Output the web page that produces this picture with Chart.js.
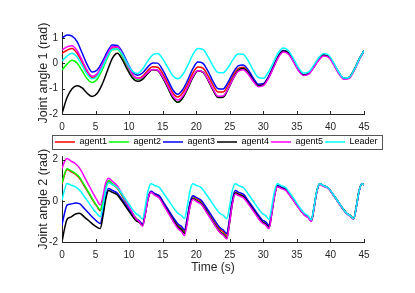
<!DOCTYPE html>
<html><head><meta charset="utf-8">
<script src="https://cdn.jsdelivr.net/npm/chart.js@4.4.1/dist/chart.umd.min.js"></script>
<style>
html,body{margin:0;padding:0;background:#fff;}
#wrap{position:relative;width:415px;height:293px;overflow:hidden;background:#fff;}
canvas{position:absolute;left:0;}
</style></head><body>
<div id="wrap">
<canvas id="c2" width="415" height="163" style="top:130px"></canvas>
<canvas id="c1" width="415" height="140" style="top:0px"></canvas>
</div>
<script>
const legendNames = ['agent1','agent2','agent3','agent4','agent5','Leader'];
const seriesColors = ['#ff0000','#00ff00','#0000ff','#000000','#ff00ff','#00ffff'];
const xTickValues = [0,5,10,15,20,25,30,35,40,45];
const yTicksTop = [-2,-1,0,1];
const yTicksBottom = [-2,0,2];

// time samples (s)
const t1 = [0,0.75,1.5,2.25,3,3.75,4.5,5.25,6,6.75,7.5,8.25,9,9.75,10.5,11.25,12,12.75,13.5,14.25,15,15.75,16.5,17.25,18,18.75,19.5,20.25,21,21.75,22.5,23.25,24,24.75,25.5,26.25,27,27.75,28.5,29.25,30,30.75,31.5,32.25,33,33.75,34.5,35.25,36,36.75,37.5,38.25,39,39.75,40.5,41.25,42,42.75,43.5,44.25,45];
const t2 = [0,0.35,0.75,1.3,2.0,2.6,3.3,4.0,4.7,5.2,5.7, 6.1,6.5,6.95,7.5,8.2,8.9,9.6,10.3,11.0,11.5,12.0, 12.4,12.8,13.25,13.8,14.5,15.2,15.9,16.6,17.3,17.8,18.25, 18.65,19.05,19.5,20.05,20.75,21.45,22.15,22.85,23.55,24.05,24.55, 24.95,25.35,25.8,26.35,27.05,27.75,28.45,29.15,29.85,30.35,30.85, 31.25,31.65,32.1,32.65,33.35,34.05,34.75,35.45,36.15,36.65,37.15, 37.55,37.95,38.4,38.95,39.65,40.35,41.05,41.75,42.45,42.95,43.45, 43.85,44.25,44.7,45];

// Joint angle 1 (rad)
const agent1_q1 = [0.40,0.52,0.59,0.40,0.04,-0.35,-0.56,-0.45,-0.11,0.31,0.61,0.61,0.33,-0.09,-0.44,-0.59,-0.51,-0.29,-0.13,-0.15,-0.40,-0.78,-1.16,-1.33,-1.16,-0.80,-0.38,-0.14,-0.19,-0.48,-0.86,-1.13,-1.13,-0.86,-0.48,-0.21,-0.15,-0.34,-0.64,-0.86,-0.83,-0.56,-0.14,0.28,0.49,0.40,0.09,-0.26,-0.45,-0.41,-0.15,0.14,0.31,0.25,-0.04,-0.39,-0.61,-0.58,-0.28,0.14,0.50];
const agent2_q1 = [-0.26,-0.03,0.12,0.01,-0.29,-0.61,-0.76,-0.62,-0.25,0.21,0.54,0.56,0.28,-0.13,-0.48,-0.63,-0.57,-0.38,-0.24,-0.28,-0.56,-0.95,-1.35,-1.54,-1.36,-0.98,-0.55,-0.30,-0.34,-0.65,-1.04,-1.33,-1.31,-1.00,-0.59,-0.28,-0.20,-0.38,-0.68,-0.89,-0.85,-0.57,-0.14,0.28,0.50,0.41,0.09,-0.26,-0.45,-0.41,-0.15,0.15,0.32,0.26,-0.02,-0.38,-0.59,-0.56,-0.27,0.15,0.50];
const agent3_q1 = [1.00,1.12,1.08,0.86,0.41,-0.05,-0.34,-0.26,0.06,0.45,0.73,0.71,0.43,0.03,-0.32,-0.47,-0.38,-0.15,0.02,0.01,-0.26,-0.64,-1.04,-1.22,-1.03,-0.65,-0.21,0.05,0.00,-0.31,-0.71,-1.00,-1.01,-0.74,-0.37,-0.10,-0.06,-0.26,-0.58,-0.82,-0.80,-0.53,-0.11,0.31,0.51,0.41,0.10,-0.26,-0.45,-0.41,-0.15,0.16,0.33,0.27,-0.02,-0.37,-0.59,-0.56,-0.27,0.15,0.50];
const agent4_q1 = [-1.98,-1.35,-1.00,-0.88,-0.97,-1.18,-1.31,-1.18,-0.82,-0.30,0.20,0.40,0.14,-0.25,-0.58,-0.71,-0.63,-0.41,-0.25,-0.28,-0.56,-0.95,-1.35,-1.54,-1.36,-0.98,-0.55,-0.30,-0.35,-0.66,-1.06,-1.35,-1.34,-1.02,-0.60,-0.28,-0.20,-0.38,-0.68,-0.89,-0.85,-0.57,-0.15,0.28,0.49,0.40,0.09,-0.27,-0.46,-0.41,-0.15,0.16,0.33,0.27,-0.02,-0.37,-0.59,-0.56,-0.27,0.15,0.50];
const agent5_q1 = [0.53,0.65,0.70,0.50,0.12,-0.28,-0.51,-0.40,-0.06,0.36,0.66,0.66,0.36,-0.07,-0.44,-0.60,-0.55,-0.37,-0.24,-0.27,-0.53,-0.90,-1.28,-1.45,-1.29,-0.93,-0.52,-0.29,-0.34,-0.64,-1.02,-1.30,-1.29,-1.00,-0.60,-0.32,-0.25,-0.43,-0.71,-0.92,-0.88,-0.60,-0.18,0.24,0.45,0.36,0.06,-0.29,-0.48,-0.43,-0.17,0.12,0.29,0.23,-0.06,-0.41,-0.63,-0.60,-0.30,0.12,0.48];
const leader_q1 = [0.10,0.29,0.40,0.25,-0.08,-0.43,-0.61,-0.50,-0.16,0.26,0.56,0.58,0.35,-0.01,-0.31,-0.40,-0.23,0.08,0.33,0.39,0.18,-0.15,-0.49,-0.61,-0.44,-0.07,0.35,0.59,0.55,0.27,-0.10,-0.36,-0.37,-0.16,0.16,0.37,0.36,0.10,-0.27,-0.56,-0.59,-0.35,0.04,0.43,0.61,0.50,0.18,-0.18,-0.38,-0.34,-0.08,0.22,0.39,0.32,0.02,-0.35,-0.58,-0.56,-0.27,0.15,0.50];

// Joint angle 2 (rad)
const agent1_q2 = [0.81,1.23,1.52,1.42,1.29,1.10,0.73,0.36,-0.03,-0.27,-0.48, -0.03,0.64,0.93,0.80,0.62,0.28,-0.11,-0.51,-0.85,-0.99,-1.18, -0.62,0.10,0.45,0.34,0.21,-0.15,-0.51,-0.88,-1.20,-1.32,-1.49, -0.93,-0.17,0.21,0.10,-0.04,-0.37,-0.73,-1.09,-1.40,-1.51,-1.69, -0.99,-0.12,0.41,0.33,0.22,-0.07,-0.40,-0.73,-1.01,-1.11,-1.28, -0.59,0.23,0.71,0.63,0.53,0.24,-0.09,-0.41,-0.69,-0.78,-0.97, -0.34,0.42,0.81,0.72,0.62,0.32,-0.01,-0.34,-0.62,-0.72,-0.87, -0.30,0.45,0.83,0.78];
const agent2_q2 = [0.85,1.27,1.56,1.46,1.33,1.14,0.77,0.39,0.00,-0.24,-0.45, 0.01,0.68,0.98,0.84,0.66,0.31,-0.09,-0.49,-0.84,-0.98,-1.18, -0.63,0.09,0.43,0.31,0.18,-0.19,-0.56,-0.93,-1.26,-1.38,-1.56, -1.00,-0.25,0.13,0.02,-0.12,-0.46,-0.82,-1.18,-1.50,-1.61,-1.79, -1.07,-0.17,0.38,0.30,0.19,-0.10,-0.42,-0.75,-1.03,-1.13,-1.30, -0.61,0.22,0.70,0.62,0.52,0.23,-0.09,-0.41,-0.69,-0.78,-0.97, -0.34,0.42,0.81,0.72,0.62,0.32,-0.01,-0.34,-0.62,-0.72,-0.87, -0.30,0.45,0.83,0.78];
const agent3_q2 = [-1.19,-0.64,-0.21,-0.16,-0.11,-0.14,-0.36,-0.61,-0.85,-1.00,-1.10, -0.56,0.21,0.60,0.50,0.39,0.09,-0.24,-0.58,-0.88,-0.97,-1.13, -0.59,0.12,0.46,0.35,0.24,-0.11,-0.47,-0.82,-1.13,-1.24,-1.41, -0.86,-0.12,0.25,0.15,0.03,-0.30,-0.65,-1.00,-1.31,-1.42,-1.59, -0.90,-0.02,0.50,0.41,0.31,0.01,-0.31,-0.64,-0.93,-1.02,-1.20, -0.53,0.29,0.75,0.67,0.56,0.27,-0.05,-0.38,-0.66,-0.76,-0.95, -0.32,0.44,0.83,0.74,0.63,0.33,0.00,-0.33,-0.62,-0.72,-0.87, -0.30,0.45,0.83,0.78];
const agent4_q2 = [-2.00,-1.40,-0.90,-0.79,-0.64,-0.60,-0.78,-0.97,-1.17,-1.28,-1.35, -0.76,0.05,0.50,0.41,0.30,0.00,-0.33,-0.66,-0.95,-1.05,-1.20, -0.65,0.07,0.41,0.29,0.16,-0.21,-0.58,-0.95,-1.28,-1.40,-1.58, -1.02,-0.27,0.11,0.00,-0.14,-0.48,-0.84,-1.20,-1.52,-1.64,-1.82, -1.09,-0.18,0.38,0.30,0.19,-0.10,-0.42,-0.75,-1.03,-1.13,-1.30, -0.61,0.23,0.71,0.63,0.53,0.23,-0.09,-0.41,-0.69,-0.79,-0.98, -0.35,0.42,0.81,0.72,0.62,0.32,-0.01,-0.34,-0.62,-0.72,-0.87, -0.30,0.45,0.83,0.78];
const agent5_q2 = [1.56,1.88,2.05,1.94,1.80,1.60,1.19,0.75,0.32,0.04,-0.20, 0.22,0.85,1.10,0.94,0.74,0.36,-0.06,-0.48,-0.86,-1.01,-1.23, -0.67,0.06,0.41,0.28,0.13,-0.24,-0.63,-1.02,-1.36,-1.49,-1.68, -1.10,-0.33,0.08,-0.04,-0.17,-0.51,-0.87,-1.23,-1.55,-1.67,-1.85, -1.13,-0.22,0.33,0.25,0.14,-0.15,-0.47,-0.80,-1.08,-1.18,-1.35, -0.65,0.19,0.68,0.60,0.50,0.21,-0.11,-0.43,-0.71,-0.81,-1.00, -0.37,0.40,0.79,0.70,0.60,0.30,-0.03,-0.36,-0.64,-0.74,-0.89, -0.32,0.44,0.83,0.78];
const leader_q2 = [0.03,0.50,0.84,0.77,0.68,0.52,0.22,-0.10,-0.42,-0.62,-0.78, -0.25,0.50,0.88,0.78,0.66,0.36,0.02,-0.32,-0.62,-0.72,-0.88, -0.30,0.45,0.83,0.74,0.65,0.33,0.00,-0.33,-0.62,-0.71,-0.86, -0.30,0.45,0.83,0.74,0.64,0.33,0.00,-0.33,-0.62,-0.71,-0.87, -0.30,0.45,0.83,0.74,0.63,0.33,0.00,-0.33,-0.62,-0.72,-0.90, -0.30,0.45,0.83,0.74,0.63,0.33,0.00,-0.33,-0.62,-0.72,-0.92, -0.30,0.45,0.83,0.74,0.63,0.33,0.00,-0.33,-0.62,-0.72,-0.87, -0.30,0.45,0.83,0.78];

Chart.defaults.font.family = "'Liberation Sans', Arial, Helvetica, sans-serif";
Chart.defaults.color = '#262626';
const AX = '#262626';

function pts(t, v){ return t.map((x, i) => ({x: x, y: v[i]})); }
function makeSets(t, list){
  return list.map((v, i) => ({
    label: legendNames[i], data: pts(t, v),
    borderColor: seriesColors[i], backgroundColor: seriesColors[i],
    borderWidth: 1.5, pointRadius: 0, fill: false,
    cubicInterpolationMode: 'monotone', order: list.length - 1 - i
  }));
}

const tickMarks = {
  id: 'tickMarks',
  afterDraw(chart){
    const {ctx, chartArea: a, scales: {x, y}} = chart;
    ctx.save(); ctx.strokeStyle = AX; ctx.lineWidth = 1; ctx.beginPath();
    x.ticks.forEach(tk => { const px = Math.round(x.getPixelForValue(tk.value)) + 0.5; ctx.moveTo(px, a.bottom); ctx.lineTo(px, a.bottom - 3); });
    y.ticks.forEach(tk => { const py = Math.round(y.getPixelForValue(tk.value)) + 0.5; ctx.moveTo(a.left, py); ctx.lineTo(a.left + 3, py); });
    ctx.stroke(); ctx.restore();
  }
};
const legendFrame = {
  id: 'legendFrame',
  afterDraw(chart){
    const lg = chart.legend;
    if (!lg || !lg.options.display || !lg.legendHitBoxes || !lg.legendHitBoxes.length) return;
    const hb = lg.legendHitBoxes, f = hb[0], l = hb[hb.length - 1];
    const x0 = Math.round(f.left - 2.5) + 0.5, x1 = Math.round(l.left + l.width + 4.5) + 0.5;
    const cy = f.top + f.height / 2;
    const ctx = chart.ctx;
    ctx.save(); ctx.strokeStyle = '#555'; ctx.lineWidth = 1;
    ctx.strokeRect(x0, Math.round(cy - 7) + 0.5, x1 - x0, 14);
    ctx.restore();
  }
};

function scalesFor(yMin, yMax, yTicks, yTitle, xH, xTitle){
  return {
    x: {
      type: 'linear', min: 0, max: 45,
      grid: {display: false, drawTicks: false},
      border: {display: true, color: AX, width: 1},
      ticks: {padding: 7, font: {size: 10}, color: AX, maxRotation: 0, autoSkip: false, callback: v => String(v)},
      afterBuildTicks: s => { s.ticks = xTickValues.map(v => ({value: v})); },
      afterFit: s => { s.height = xH; },
      title: xTitle ? {display: true, text: xTitle, font: {size: 12}, color: AX, padding: {top: 0, bottom: 18.5}} : {display: false}
    },
    y: {
      type: 'linear', position: 'left', min: yMin, max: yMax,
      grid: {display: false, drawTicks: false},
      border: {display: true, color: AX, width: 1},
      ticks: {padding: 4, font: {size: 10}, color: AX, callback: v => String(v)},
      afterBuildTicks: s => { s.ticks = yTicks.map(v => ({value: v})); },
      afterFit: s => { s.width = 44.5; },
      title: {display: true, text: yTitle, font: {size: 12.5}, color: AX, padding: {top: 18.5, bottom: 0}}
    },
    yR: {
      type: 'linear', position: 'right', display: true,
      grid: {display: false, drawTicks: false}, border: {display: false},
      ticks: {display: false},
      afterFit: s => { s.width = 51; }
    }
  };
}

new Chart(document.getElementById('c1'), {
  type: 'line',
  data: {datasets: makeSets(t1, [agent1_q1, agent2_q1, agent3_q1, agent4_q1, agent5_q1, leader_q1])},
  options: {
    responsive: false, animation: false, devicePixelRatio: 1, events: [],
    layout: {padding: {top: 32, left: 17.5, right: 0, bottom: 0}},
    plugins: {legend: {display: false}, tooltip: {enabled: false}},
    scales: scalesFor(-2, 1.24, yTicksTop, 'Joint angle 1 (rad)', 26, null)
  },
  plugins: [tickMarks]
});

new Chart(document.getElementById('c2'), {
  type: 'line',
  data: {datasets: makeSets(t2, [agent1_q2, agent2_q2, agent3_q2, agent4_q2, agent5_q2, leader_q2])},
  options: {
    responsive: false, animation: false, devicePixelRatio: 1, events: [],
    layout: {padding: {top: 5.5, left: 17.5, right: 0, bottom: 0}},
    plugins: {
      tooltip: {enabled: false},
      legend: {
        display: true, position: 'top', align: 'center', maxHeight: 24.5,
        labels: {usePointStyle: true, pointStyle: 'line', pointStyleWidth: 20, boxHeight: 9, padding: 2,
                 font: {size: 9}, color: '#000', sort: (a, b) => a.datasetIndex - b.datasetIndex}
      }
    },
    scales: scalesFor(-2, 2.15, yTicksBottom, 'Joint angle 2 (rad)', 51, 'Time (s)')
  },
  plugins: [tickMarks, legendFrame]
});
</script>
</body></html>
